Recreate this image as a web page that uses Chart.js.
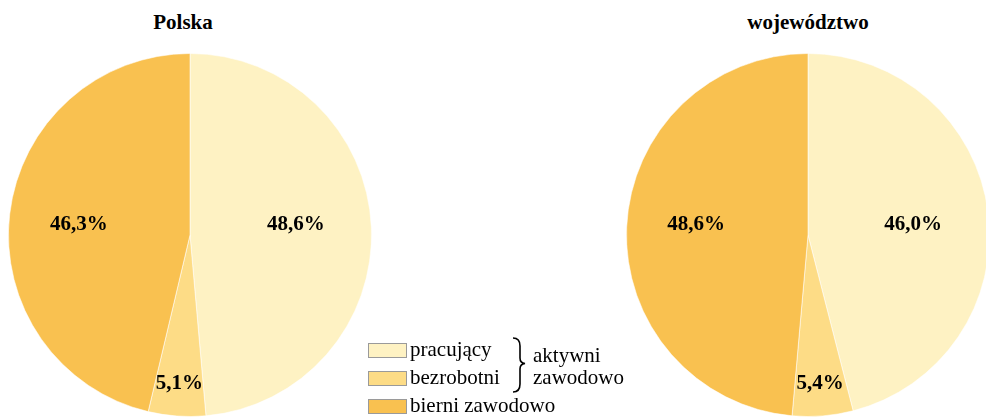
<!DOCTYPE html>
<html>
<head>
<meta charset="utf-8">
<script src="https://cdn.jsdelivr.net/npm/chart.js@4.4.1/dist/chart.umd.min.js"></script>
<style>
  html, body { margin: 0; padding: 0; background: #fff; }
  body { width: 986px; height: 419px; overflow: hidden; position: relative;
         font-family: "Liberation Serif", "Times New Roman", serif; color: #000; }
  .t { position: absolute; font-size: 21px; line-height: 21px; white-space: nowrap; }
  .title { font-weight: bold; text-align: center; width: 300px; }
  .box { position: absolute; width: 37px; height: 13px; border: 1px solid #9a9a9a; box-sizing: content-box; }
  .pie { position: absolute; width: 364px; height: 364px; }
</style>
</head>
<body>
<div id="title0" class="t title" style="left:33px; top:12px;"></div>
<div id="title1" class="t title" style="left:658px; top:12px;"></div>
<div class="pie" style="left:8px; top:53px;"><canvas id="c0"></canvas></div>
<div class="pie" style="left:625.5px; top:53px;"><canvas id="c1"></canvas></div>

<div class="box" id="b0" style="left:368px; top:343px;"></div>
<div class="box" id="b1" style="left:368px; top:371px;"></div>
<div class="box" id="b2" style="left:368px; top:399px;"></div>
<div class="t" id="l0" style="left:410px; top:339px;"></div>
<div class="t" id="l1" style="left:410px; top:367px;"></div>
<div class="t" id="l2" style="left:410px; top:395px;"></div>
<svg style="position:absolute; left:500px; top:330px;" width="40" height="70">
  <path d="M13 8 Q20 8 20 16 L20 28 Q20 33 25 33.5 Q20 34 20 39 L20 54 Q20 62 13 62" fill="none" stroke="#000" stroke-width="1.6"/>
</svg>
<div class="t" id="g0" style="left:533px; top:345px;"></div>
<div class="t" id="g1" style="left:533px; top:367px;"></div>

<script>
const titles = ["Polska", "województwo"];
const categories = ["pracujący", "bezrobotni", "bierni zawodowo"];
const groupLabel = ["aktywni", "zawodowo"];
const polskaValues = [48.6, 5.1, 46.3];
const wojewodztwoValues = [46.0, 5.4, 48.6];
const colors = ["#FEF2C3", "#FDDC86", "#F9C150"];

document.getElementById("title0").textContent = titles[0];
document.getElementById("title1").textContent = titles[1];
categories.forEach((c, i) => {
  document.getElementById("l" + i).textContent = c;
  document.getElementById("b" + i).style.background = colors[i];
});
document.getElementById("g0").textContent = groupLabel[0];
document.getElementById("g1").textContent = groupLabel[1];

const fmt = v => v.toFixed(1).replace(".", ",") + "%";

const labelPlugin = {
  id: "sliceLabels",
  afterDatasetsDraw(chart) {
    const ctx = chart.ctx;
    const ds = chart.data.datasets[0];
    const meta = chart.getDatasetMeta(0);
    ctx.save();
    ctx.font = "bold 21px 'Liberation Serif', 'Times New Roman', serif";
    ctx.fillStyle = "#000";
    ctx.textAlign = "center";
    ctx.textBaseline = "middle";
    meta.data.forEach((arc, i) => {
      const p = arc.getProps(["x", "y", "startAngle", "endAngle", "outerRadius"], true);
      const mid = (p.startAngle + p.endAngle) / 2;
      let x, y;
      if (ds.data[i] < 10) {
        const r = p.outerRadius * 0.82;
        x = p.x + Math.cos(mid) * r;
        y = p.y + Math.sin(mid) * r;
      } else {
        const r = p.outerRadius * 0.6;
        x = p.x + Math.cos(mid) * r - 3;
        y = p.y - 10;
      }
      ctx.fillText(fmt(ds.data[i]), x, y);
    });
    ctx.restore();
  }
};

function makePie(id, values) {
  return new Chart(document.getElementById(id), {
    type: "pie",
    data: {
      labels: categories,
      datasets: [{
        data: values,
        backgroundColor: colors,
        borderColor: "rgba(255,255,255,0.55)",
        borderWidth: 1,
        hoverOffset: 0,
        offset: 0
      }]
    },
    options: {
      responsive: true,
      maintainAspectRatio: false,
      animation: false,
      events: [],
      layout: { padding: 0 },
      plugins: { legend: { display: false }, tooltip: { enabled: false }, title: { display: false } }
    },
    plugins: [labelPlugin]
  });
}
makePie("c0", polskaValues);
makePie("c1", wojewodztwoValues);
</script>
</body>
</html>
